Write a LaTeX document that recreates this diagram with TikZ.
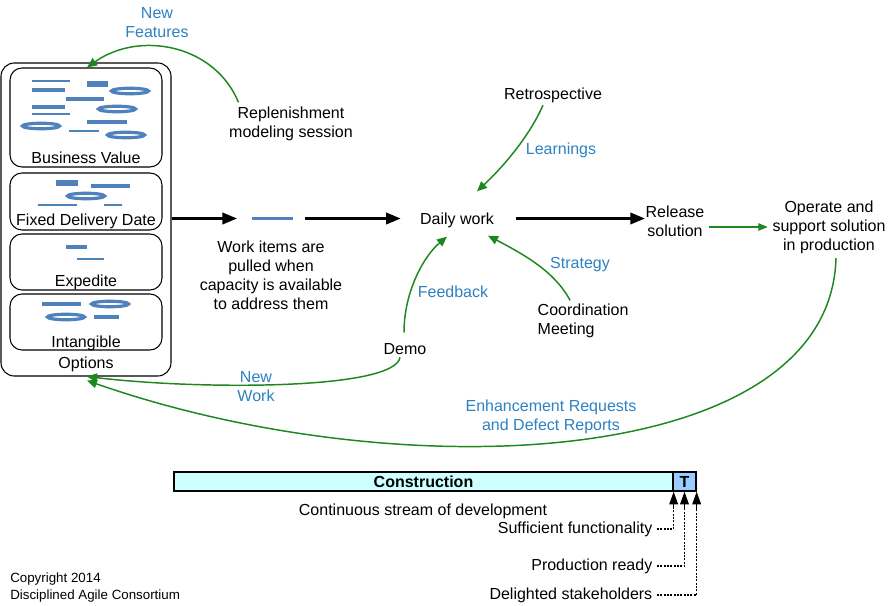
\documentclass[tikz,border=0pt]{standalone}
\usepackage{fontspec}
\setmainfont{Liberation Sans}
\usetikzlibrary{arrows.meta,calc}
\definecolor{gr}{RGB}{30,135,30}
\definecolor{lb}{RGB}{45,130,195}
\definecolor{mb}{RGB}{79,129,189}
\definecolor{cyanfill}{RGB}{204,255,255}
\definecolor{tfill}{RGB}{153,204,255}
\begin{document}
\begin{tikzpicture}[x=0.75pt,y=-0.75pt,
  font=\fontsize{12}{14.25}\selectfont,
  every node/.append style={yshift=-1.5pt},
  txt/.style={align=center},
  lbl/.style={align=center,text=lb},
  box/.style={draw,rounded corners=9pt,line width=0.8pt,minimum width=114pt,inner sep=0,yshift=1.5pt},
  flow/.style={line width=2pt,-{Triangle[length=11pt,width=8.5pt]}},
  garrow/.style={draw=gr,line width=1.1pt,-{Triangle[length=7.5pt,width=6.5pt]}},
  garrowthin/.style={draw=gr,line width=1pt,-{Triangle[length=7pt,width=5.5pt]}},
  mk/.style={draw=mb,line width=2.4pt},
  mkthin/.style={draw=mb,line width=1.6pt},
  mkfat/.style={draw=mb,line width=3.9pt},
  dotline/.style={line width=0.9pt,dash pattern=on 1.5pt off 1pt},
  tiparr/.style={line width=0.9pt,-{Triangle[length=9.5pt,width=6.5pt]}},
  bar/.style={draw,line width=1pt,minimum height=14.25pt,inner sep=0,yshift=1.5pt,font=\fontsize{12}{14.25}\selectfont\bfseries}
]
\fill[white] (0,0) rectangle (890,606);
\useasboundingbox (0,0) rectangle (890,606);

% Options column
\node[box, rounded corners=10pt, minimum width=127.5pt, minimum height=234.75pt] (options) at (86,219.5) {};
\node[box, minimum height=74.25pt] (bv) at (86,117.5) {};
\node[box, minimum height=42.75pt] (fdd) at (86,201.5) {};
\node[box, minimum height=42pt] (exp) at (86,262) {};
\node[box, minimum height=42pt] (intg) at (86,322) {};
\node (bvl) at (86,156) {Business Value};
\node (fddl) at (86,219) {Fixed Delivery Date};
\node (expl) at (86,280) {Expedite};
\node (intl) at (86,341) {Intangible};
\node (optl) at (86,362) {Options};

% marks: Business Value
\draw[mkthin] (32,81) -- (70,81);
\draw[mk] (32,90) -- (65,90);
\draw[mkfat] (87,84) -- (108,84);
\draw[mk] (130,91) ellipse [x radius=18.5, y radius=2.75];
\draw[mk] (66,99) -- (104,99);
\draw[mk] (32,107) -- (65,107);
\draw[mk] (117,109) ellipse [x radius=18.5, y radius=2.75];
\draw[mkthin] (32,114) -- (70,114);
\draw[mk] (41,126) ellipse [x radius=18.5, y radius=2.75];
\draw[mk] (87,122) -- (127,122);
\draw[mkthin] (69,131) -- (99,131);
\draw[mk] (126,135) ellipse [x radius=18.5, y radius=2.75];
% Fixed Delivery Date
\draw[mkfat] (56,183) -- (78,183);
\draw[mk] (91,186) -- (130,186);
\draw[mk] (86,196) ellipse [x radius=18.5, y radius=2.75];
\draw[mkthin] (38,205) -- (77,205);
\draw[mkthin] (104,205) -- (122,205);
% Expedite
\draw[mk] (66,247) -- (87,247);
\draw[mkthin] (77,259) -- (104,259);
% Intangible
\draw[mk] (42,304) -- (81,304);
\draw[mk] (110,304) ellipse [x radius=18.5, y radius=2.75];
\draw[mk] (66,317) ellipse [x radius=18.5, y radius=2.75];
\draw[mk] (94,317) -- (119,317);

% main flow
\node[fill=mb, minimum width=30.75pt, minimum height=2.25pt, inner sep=0, yshift=1.5pt] (item) at (272.5,218.5) {};
\node (daily) at (457,218.5) {Daily work};
\node[txt] (release) at (675,219.5) {Release\\solution};
\node[txt] (operate) at (829,225) {Operate and\\support solution\\in production};
\node[txt] (workitems) at (271,273.5) {Work items are\\pulled when\\capacity is available\\to address them};
\node[txt] (replen) at (291,122) {Replenishment\\modeling session};
\node[lbl] (newfeat) at (157,21) {New\\Features};
\node (retro) at (553,93) {Retrospective};
\node[lbl] (learn) at (561,148) {Learnings};
\node[lbl] (feedback) at (453,290) {Feedback};
\node[lbl] (strategy) at (580,263) {Strategy};
\node[align=left, anchor=west] (coord) at (533,319) {Coordination\\Meeting};
\node (demo) at (405,347) {Demo};
\node[lbl] (newwork) at (256,385) {New\\Work};
\node[lbl] (enh) at (551,414.5) {Enhancement Requests\\and Defect Reports};

\draw[flow, shorten >=11pt] (options.east |- item) -- (item.west);
\draw[flow, shorten <=9pt, shorten >=11pt] (item.east) -- (daily.west |- item);
\draw[flow, shorten <=13pt, shorten >=-3pt] (daily.east |- item) -- (release.west |- item);
\draw[garrowthin] (release.east |- operate) -- (operate.west);

\draw[garrow] ($(replen.north west)+(14,0)$) .. controls (215,45) and (140,30) .. ($(bv.north)+(1,0)$);
\draw[garrow] ($(retro.south)+(-10,-2)$) .. controls (530,135) and (505,165) .. ($(daily.north)+(20,-17)$);
\draw[garrow] ($(demo.north)+(-1,-6)$) .. controls (404,290) and (425,255) .. ($(daily.south)+(-10,4)$);
\draw[garrow] ($(coord.north)+(-13,1)$) .. controls (555,272) and (525,255) .. ($(daily.south)+(31,3)$);
\draw[garrow] ($(demo.south)+(-5,-2)$) .. controls (395,390) and (200,390) .. ($(options.south)+(1,0)$);
\draw[garrow] ($(operate.south)+(7,0)$) .. controls (830,470) and (400,490) .. ($(options.south)+(1,4)$);

% lifecycle bar
\node[bar, fill=cyanfill, minimum width=374.25pt] (constr) at (423.5,481.5) {Construction};
\node[bar, fill=tfill, minimum width=17.25pt] (tbox) at (684.5,481.5) {T};
\node (cont) at (423,509) {Continuous stream of development};
\node[anchor=east] (suff) at (657,527) {Sufficient functionality};
\node[anchor=east] (prod) at (657,564) {Production ready};
\node[anchor=east] (deli) at (657,593) {Delighted stakeholders};
\coordinate (a1) at ($(constr.south east)+(0,14)$);
\coordinate (a2) at ($(tbox.south)+(0,14)$);
\coordinate (a3) at ($(tbox.south east)+(0,14)$);
\draw[dotline] (suff.east) -| (a1);
\draw[dotline] (prod.east) -| (a2);
\draw[dotline] (deli.east) -| (a3);
\draw[tiparr] (a1) -- (constr.south east);
\draw[tiparr] (a2) -- (tbox.south);
\draw[tiparr] (a3) -- (tbox.south east);

\node[anchor=west, align=left, inner sep=0, font=\fontsize{10}{12.75}\selectfont] (copy) at (10,585.5) {Copyright 2014\\Disciplined Agile Consortium};
\end{tikzpicture}
\end{document}
